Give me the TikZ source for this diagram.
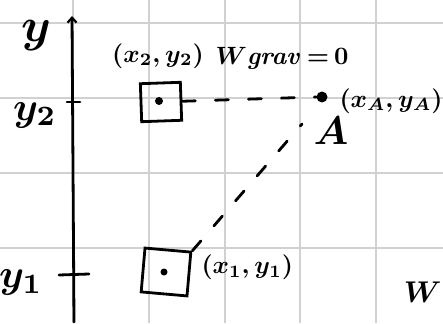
\documentclass[tikz,border=0pt]{standalone}
\usetikzlibrary{arrows.meta}
\begin{document}
\begin{tikzpicture}[x=1pt,y=-1pt,
  ink/.style={line width=2.8pt,line cap=round,line join=round},
  gridline/.style={draw=black!18,line width=1.6pt},
  boxnode/.style={draw,line width=2.8pt,minimum width=40pt,minimum height=38pt,inner sep=0pt},
  dotnode/.style={circle,fill,inner sep=0pt,minimum size=#1},
  lab/.style={inner sep=0pt,scale=2.5,font=\boldmath},
  dashline/.style={ink,dash pattern=on 13pt off 20pt}]
\useasboundingbox (0,0) rectangle (443,323);
% grid
\foreach \gx in {73,149,225,300,376} \draw[gridline] (\gx,0) -- (\gx,323);
\foreach \gy in {23,98,173,248} \draw[gridline] (0,\gy) -- (443,\gy);
% axis
\coordinate (axbot) at (74,322);
\coordinate (axtop) at (72,16);
\draw[ink,-{Straight Barb[length=5pt,width=9pt,line width=2.2pt]}] (axbot) -- (axtop);
\node[lab,scale=1.9] (ylab) at (36,36) {$y$};
% ticks
\coordinate (t2a) at (67,102); \coordinate (t2b) at (80,102);
\draw[ink] (t2a) -- (t2b);
\coordinate (t1a) at (59,275); \coordinate (t1b) at (89,274);
\draw[ink] (t1a) -- (t1b);
\node[lab,scale=1.6] (y2lab) at (35,115) {$y_2$};
\node[lab,scale=1.6] (y1lab) at (21,282) {$y_{1}$};
% boxes
\node[boxnode,rotate=2] (box2) at (161,102) {};
\node[dotnode=8pt] (dot2) at (159,101) {};
\node[boxnode,rotate=-5,minimum width=46pt,minimum height=44pt] (box1) at (166,272) {};
\node[dotnode=7pt] (dot1) at (164,272) {};
% point A
\node[dotnode=11pt] (ptA) at (322,97) {};
\node[lab,scale=1.6] (Alab) at (331,131) {$A$};
\node[lab,anchor=west] (xAlab) at (339,101) {$(x_A,y_A)$};
% labels
\node[lab] (x2lab) at (158,56) {$(x_2,y_2)$};
\node[lab] (wlab) at (282,58) {$W\mathit{grav}\,{=}\,0$};
\node[lab,anchor=west] (x1lab) at (201,267) {$(x_1,y_1)$};
\node[lab,scale=1.2,anchor=east] (Wcut) at (442,292) {$W$};
% dashed connectors
\coordinate (diagend) at (302,124);
\draw[dashline] (box2.east) -- (ptA.west);
\draw[dashline] (box1.north east) -- (diagend);
\end{tikzpicture}
\end{document}
